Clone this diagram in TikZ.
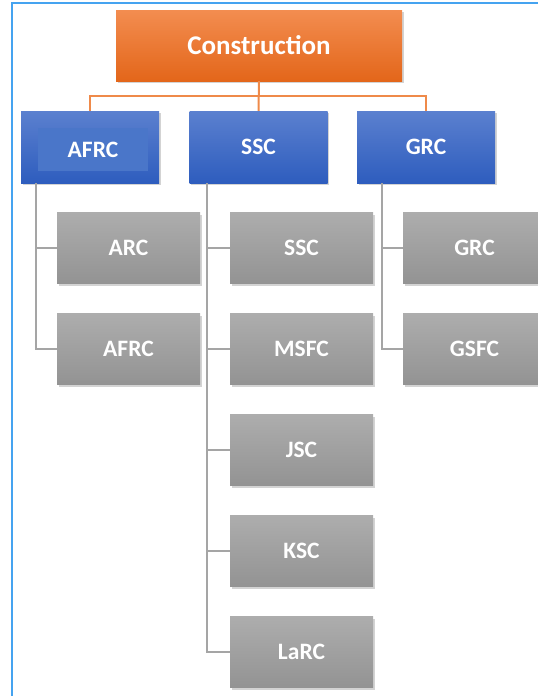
\documentclass[tikz,border=0pt]{standalone}
\usepackage{fontspec}
\setmainfont{Carlito}
\usetikzlibrary{shadows}
\definecolor{topup}{HTML}{F38D50}
\definecolor{topdown}{HTML}{E3661A}
\definecolor{blueup}{HTML}{5B80CF}
\definecolor{bluedown}{HTML}{2E5DBE}
\definecolor{bluepatch}{HTML}{4A76C9}
\definecolor{grayup}{HTML}{ADADAD}
\definecolor{graydown}{HTML}{939393}
\definecolor{tieline}{HTML}{EF8A4A}
\definecolor{linkline}{HTML}{A5A5A5}
\definecolor{frameline}{HTML}{45A3F0}
\begin{document}
\begin{tikzpicture}[x=1pt,y=-1pt,node distance=101pt,
  boxshadow/.style={drop shadow={opacity=0.35,shadow xshift=1.5pt,shadow yshift=-2pt}},
  chief/.style={top color=topup,bottom color=topdown,minimum width=286pt,minimum height=71pt,
    text=white,font=\bfseries\fontsize{27}{32}\selectfont,boxshadow},
  branch/.style={top color=blueup,bottom color=bluedown,minimum width=138pt,minimum height=72pt,
    text=white,font=\bfseries\fontsize{23.5}{28}\selectfont,boxshadow},
  office/.style={top color=grayup,bottom color=graydown,minimum width=143pt,minimum height=71pt,
    text=white,font=\bfseries\fontsize{23.5}{28}\selectfont,boxshadow},
  tie/.style={draw=tieline,line width=2pt},
  link/.style={draw=linkline,line width=2pt}]
\useasboundingbox (0,0) rectangle (538,696);
\draw[frameline,line width=2pt] (12,696) -- (12,3) -- (538,3);

% top and branches
\node (construction) [chief] at (259,45.5) {Construction};
\node (afrc) [branch] at (90,147) {};
\node (afrclabel) [fill=bluepatch,minimum width=110pt,minimum height=43pt,
  text=white,font=\bfseries\fontsize{23.5}{28}\selectfont] at (93,149.5) {AFRC};
\node (ssc) [branch] at (258.5,147) {SSC};
\node (grc) [branch] at (426,147) {GRC};

% offices
\node (arc) [office] at (128.5,248) {ARC};
\node (afrcoffice) [office, below of=arc] {AFRC};
\node (sscoffice) [office] at (301.5,248) {SSC};
\node (msfc) [office, below of=sscoffice] {MSFC};
\node (jsc) [office, below of=msfc] {JSC};
\node (ksc) [office, below of=jsc] {KSC};
\node (larc) [office, below of=ksc] {LaRC};
\node (grcoffice) [office] at (474.5,248) {GRC};
\node (gsfc) [office, below of=grcoffice] {GSFC};

\draw[tie] (construction.south) -- ++(0,15) -| (afrc.north);
\draw[tie] (construction.south) -- (ssc.north);
\draw[tie] (construction.south) -- ++(0,15) -| (grc.north);

\draw[link] ([xshift=15pt]afrc.south west) |- (arc.west);
\draw[link] ([xshift=15pt]afrc.south west) |- (afrcoffice.west);
\draw[link] ([xshift=18pt]ssc.south west) |- (sscoffice.west);
\draw[link] ([xshift=18pt]ssc.south west) |- (msfc.west);
\draw[link] ([xshift=18pt]ssc.south west) |- (jsc.west);
\draw[link] ([xshift=18pt]ssc.south west) |- (ksc.west);
\draw[link] ([xshift=18pt]ssc.south west) |- (larc.west);
\draw[link] ([xshift=25pt]grc.south west) |- (grcoffice.west);
\draw[link] ([xshift=25pt]grc.south west) |- (gsfc.west);
\end{tikzpicture}
\end{document}
